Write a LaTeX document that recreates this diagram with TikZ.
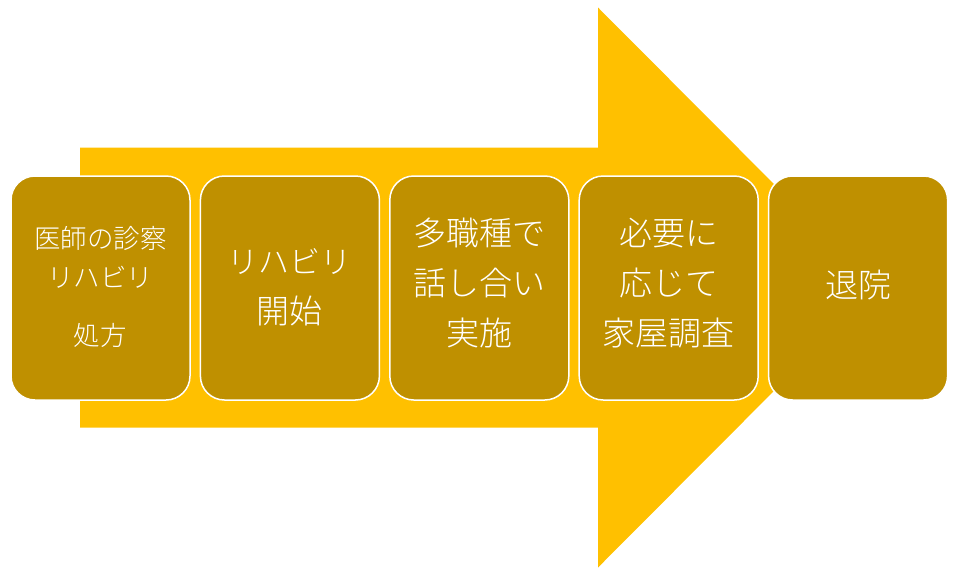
\documentclass[tikz,border=0pt]{standalone}
\usepackage{fontspec}
\setmainfont{Noto Sans CJK JP}[UprightFont={* Light}]
\definecolor{arrowgold}{HTML}{FFC000}
\definecolor{boxgold}{HTML}{BF9000}
\tikzset{
  stepbox/.style={draw=white, line width=1.5pt, fill=boxgold, rounded corners=24pt,
    minimum width=179pt, minimum height=224pt, inner sep=0pt},
  steptext/.style={text=white, align=center, inner sep=0pt, font=\fontsize{33pt}{50pt}\selectfont},
}
\begin{document}
\begin{tikzpicture}[x=1pt,y=-1pt]
\useasboundingbox (0,0) rectangle (960,574);
\fill[arrowgold] (80,147.5) -- (598,147.5) -- (598,7.5) -- (877,287.5) -- (598,567.5) -- (598,427.5) -- (80,427.5) -- cycle;
\node[stepbox] (b1) at (100.5,288) {};
\node[stepbox] (b2) at (289.9,288) {};
\node[stepbox] (b3) at (479.3,288) {};
\node[stepbox] (b4) at (668.7,288) {};
\node[stepbox] (b5) at (858.1,288) {};
\node[steptext, font=\fontsize{26.5pt}{39pt}\selectfont] (t1) at ([yshift=1pt]b1.center) {医師の診察\\リハビリ\\[19pt]処方};
\node[steptext] (t2) at ([yshift=1pt]b2.center) {{\fontsize{31pt}{50pt}\selectfont リハビリ}\\開始};
\node[steptext] (t3) at ([yshift=5pt]b3.center) {多職種で\\話し合い\\実施};
\node[steptext] (t4) at ([yshift=5pt]b4.center) {必要に\\応じて\\家屋調査};
\node[steptext] (t5) at ([yshift=3pt]b5.center) {退院};
\end{tikzpicture}
\end{document}
